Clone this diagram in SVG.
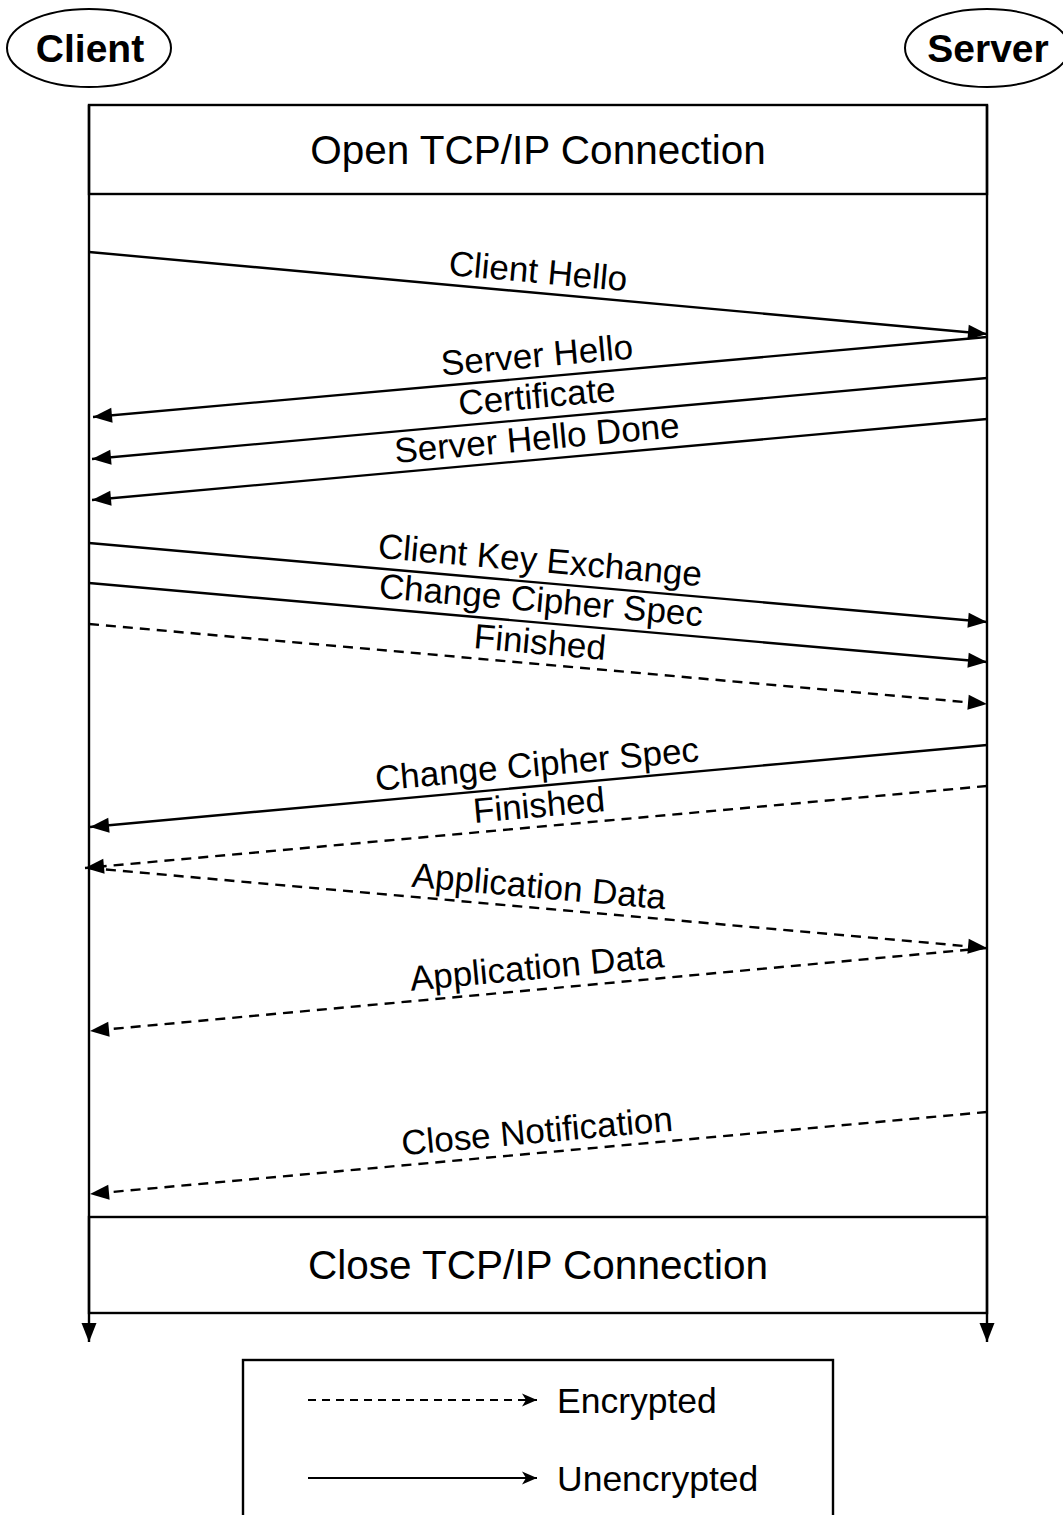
<svg xmlns="http://www.w3.org/2000/svg" width="1063" height="1515" viewBox="0 0 1063 1515">
<style>
.ln{stroke:#000;stroke-width:2.4;fill:none}
.dash{stroke-dasharray:10 7}
.lbl{font-family:"Liberation Sans",Arial,sans-serif;font-size:35px;fill:#000;text-anchor:middle}
.hdr{font-family:"Liberation Sans",Arial,sans-serif;font-size:40.5px;fill:#000;text-anchor:middle}
.actor{font-family:"Liberation Sans",Arial,sans-serif;font-size:39px;font-weight:bold;fill:#000;text-anchor:middle}
.leg{font-family:"Liberation Sans",Arial,sans-serif;font-size:35.5px;fill:#000}
</style>
<defs>
<marker id="ah" markerUnits="userSpaceOnUse" markerWidth="22" markerHeight="18" refX="19" refY="9" orient="auto" overflow="visible">
<path d="M0,1.5 L19,9 L0,16.5 z" fill="#000"/>
</marker>
<marker id="ahs" markerUnits="userSpaceOnUse" markerWidth="18" markerHeight="14" refX="15" refY="7" orient="auto" overflow="visible">
<path d="M0,0.5 L15,7 L0,13.5 L4,7 z" fill="#000"/>
</marker>
</defs>
<rect width="1063" height="1515" fill="#fff"/>

<g id="client">
<ellipse cx="89" cy="48" rx="82" ry="39" fill="#fff" stroke="#000" stroke-width="2"/>
<text class="actor" x="90" y="62">Client</text>
</g>
<g id="server">
<ellipse cx="987" cy="48" rx="82" ry="39" fill="#fff" stroke="#000" stroke-width="2"/>
<text class="actor" x="988" y="62">Server</text>
</g>

<g id="open-tcp">
<rect x="89" y="105" width="898" height="89" fill="#fff" stroke="#000" stroke-width="2.4"/>
<text class="hdr" x="538" y="164">Open TCP/IP Connection</text>
</g>
<g id="close-tcp">
<rect x="89" y="1217" width="898" height="96" fill="#fff" stroke="#000" stroke-width="2.4"/>
<text class="hdr" x="538" y="1279">Close TCP/IP Connection</text>
</g>

<g id="lifelines">
<line class="ln" x1="89" y1="105" x2="89" y2="1342" marker-end="url(#ah)"/>
<line class="ln" x1="987" y1="105" x2="987" y2="1342" marker-end="url(#ah)"/>
</g>

<g id="connectors">
<line class="ln" x1="89" y1="252" x2="987" y2="334" marker-end="url(#ah)"/>
<line class="ln" x1="987" y1="337" x2="93" y2="417" marker-end="url(#ah)"/>
<line class="ln" x1="987" y1="378" x2="92" y2="459" marker-end="url(#ah)"/>
<line class="ln" x1="987" y1="419" x2="92" y2="500" marker-end="url(#ah)"/>
<line class="ln" x1="89" y1="543" x2="987" y2="622" marker-end="url(#ah)"/>
<line class="ln" x1="89" y1="583" x2="987" y2="662" marker-end="url(#ah)"/>
<line class="ln dash" x1="89" y1="624" x2="987" y2="704" marker-end="url(#ah)"/>
<line class="ln" x1="987" y1="745" x2="90" y2="827" marker-end="url(#ah)"/>
<line class="ln dash" x1="987" y1="786" x2="85" y2="868" marker-end="url(#ah)"/>
<line class="ln dash" x1="89" y1="868" x2="987" y2="948" marker-end="url(#ah)"/>
<line class="ln dash" x1="987" y1="948" x2="90" y2="1031" marker-end="url(#ah)"/>
<line class="ln dash" x1="987" y1="1112" x2="90" y2="1194" marker-end="url(#ah)"/>
</g>

<g id="labels">
<text class="lbl" transform="translate(537,283) rotate(5.2)">Client Hello</text>
<text class="lbl" transform="translate(538,367) rotate(-5.1)">Server Hello</text>
<text class="lbl" transform="translate(538,408) rotate(-5.2)">Certificate</text>
<text class="lbl" transform="translate(538,450) rotate(-5.2)">Server Hello Done</text>
<text class="lbl" transform="translate(539,572) rotate(5.0)">Client Key Exchange</text>
<text class="lbl" transform="translate(540,612) rotate(5.0)">Change Cipher Spec</text>
<text class="lbl" transform="translate(539,654) rotate(5.1)">Finished</text>
<text class="lbl" transform="translate(538,776) rotate(-5.2)">Change Cipher Spec</text>
<text class="lbl" transform="translate(540,817) rotate(-5.2)">Finished</text>
<text class="lbl" transform="translate(538,898) rotate(5.1)">Application Data</text>
<text class="lbl" transform="translate(538,979) rotate(-5.3)">Application Data</text>
<text class="lbl" transform="translate(538,1143) rotate(-5.2)">Close Notification</text>
</g>

<g id="legend">
<rect x="243" y="1360" width="590" height="170" fill="#fff" stroke="#000" stroke-width="2.4"/>
<line class="ln" x1="308" y1="1400" x2="537" y2="1400" marker-end="url(#ahs)" style="stroke-dasharray:8 6;stroke-width:2"/>
<text class="leg" x="557" y="1413">Encrypted</text>
<line class="ln" x1="308" y1="1478" x2="537" y2="1478" marker-end="url(#ahs)" style="stroke-width:2"/>
<text class="leg" x="557" y="1491">Unencrypted</text>
</g>
</svg>
